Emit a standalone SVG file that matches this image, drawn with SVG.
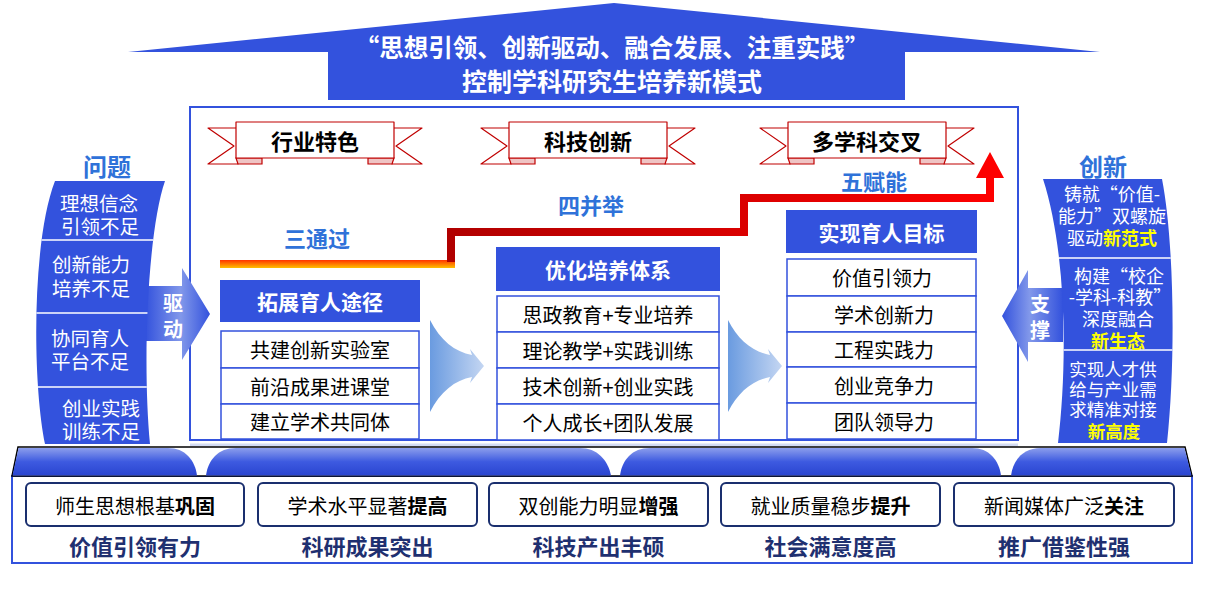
<svg xmlns="http://www.w3.org/2000/svg" width="1211" height="610" viewBox="0 0 1211 610">
<defs>
<style>
.t{font-family:"Noto Sans CJK SC","Noto Sans",sans-serif;dominant-baseline:central;text-anchor:middle;}
.w{fill:#fff}
.b{font-weight:bold}
.k{fill:#000}
.hdr{fill:#3352dd}
.item{fill:#fff;stroke:#3352dd;stroke-width:1.5}
.rib{fill:#fff;stroke:#c00000;stroke-width:1.2;stroke-linejoin:round}
.fold{fill:#efc4c4;stroke:#c00000;stroke-width:1.2}
.lbl{fill:#2f72d9;font-weight:bold}
.res{fill:#fff;stroke:#1a2f6e;stroke-width:2}
.ev{fill:#1f3070;font-weight:bold;font-size:22px}
.div{stroke:#fff;stroke-width:1.5}
.yel{fill:#ffff00;font-weight:bold}
</style>
<linearGradient id="bump" x1="0" y1="0" x2="0" y2="1">
<stop offset="0" stop-color="#8c9eec"/><stop offset="0.5" stop-color="#3d5ae0"/><stop offset="1" stop-color="#2a45d0"/>
</linearGradient>
<linearGradient id="fan" x1="0" y1="0" x2="1" y2="0">
<stop offset="0" stop-color="#6a9be0"/><stop offset="1" stop-color="#c4d6f2"/>
</linearGradient>
<linearGradient id="qd" x1="0" y1="0" x2="1" y2="0">
<stop offset="0" stop-color="#3352dd"/><stop offset="0.55" stop-color="#8298ea"/><stop offset="1" stop-color="#3352dd"/>
</linearGradient>
<linearGradient id="cc" x1="1" y1="0" x2="0" y2="0">
<stop offset="0" stop-color="#3352dd"/><stop offset="0.55" stop-color="#8298ea"/><stop offset="1" stop-color="#3352dd"/>
</linearGradient>
<linearGradient id="orange" x1="0" y1="0" x2="0" y2="1">
<stop offset="0" stop-color="#ff3300"/><stop offset="1" stop-color="#ffc000"/>
</linearGradient>
<linearGradient id="red" gradientUnits="userSpaceOnUse" x1="447" y1="0" x2="1004" y2="0">
<stop offset="0" stop-color="#b00000"/><stop offset="1" stop-color="#ff0000"/>
</linearGradient>
<clipPath id="lclip"><path d="M55,181 L165,181 C148,230 142,360 150,444 L45,444 C32,380 32,240 55,181 Z"/></clipPath>
<clipPath id="rclip"><path d="M1043,179 L1162,179 C1174,240 1176,360 1167,443 L1058,443 C1068,360 1066,250 1043,179 Z"/></clipPath>
<g id="ribbon">
<polygon class="rib" points="0,6 30,6 30,42 0,42 26,24"/>
<polygon class="rib" points="214,6 184,6 184,42 214,42 188,24"/>
<polygon class="fold" points="28,36 54,36 54,42 30,42"/>
<polygon class="fold" points="186,36 160,36 160,42 184,42"/>
<rect class="rib" x="28" y="0" width="158" height="36"/>
</g>
</defs>

<g id="roof">
<polygon fill="#3352dd" points="128,52 614,3 1100,52 905,52 905,100 328,100 328,52"/>
<text class="t w b"><tspan x="612" y="46" font-size="24.5">“思想引领、创新驱动、融合发展、注重实践”</tspan><tspan x="612" y="80" font-size="25">控制学科研究生培养新模式</tspan></text>
</g>

<g id="frame">
<rect x="190" y="107" width="828" height="333" fill="#fff" stroke="#3352dd" stroke-width="2"/>
<line x1="190" y1="445" x2="1018" y2="445" stroke="#d3dbf3" stroke-width="3"/>
</g>

<g id="ribbon1"><use href="#ribbon" x="208" y="122"/><text class="t b k" x="315" y="140" font-size="22">行业特色</text></g>
<g id="ribbon2"><use href="#ribbon" x="481" y="122"/><text class="t b k" x="588" y="140" font-size="22">科技创新</text></g>
<g id="ribbon3"><use href="#ribbon" x="760" y="122"/><text class="t b k" x="867" y="140" font-size="22">多学科交叉</text></g>

<g id="connectors">
<rect x="220" y="260" width="235" height="8" fill="url(#orange)"/>
<polygon fill="url(#red)" points="447,228 740,228 740,194 986,194 986,178 976,178 990,152 1004,178 994,178 994,202 748,202 748,236 455,236 455,262 447,262"/>
<path fill="url(#fan)" d="M430,320 C440,340 455,352 472,355 L470,349 L484,366 L470,383 L472,377 C455,380 440,392 430,412 Z"/>
<path fill="url(#fan)" d="M728,320 C738,340 753,352 770,355 L768,349 L782,366 L768,383 L770,377 C753,380 738,392 728,412 Z"/>
<polygon fill="url(#qd)" points="145,286 182,286 182,268 210,314 182,360 182,341 145,341"/>
<text class="t w b" font-size="20"><tspan x="173" y="302">驱</tspan><tspan x="173" y="328">动</tspan></text>
<polygon fill="url(#cc)" points="1063,288 1028,288 1028,270 1002,316 1028,362 1028,342 1063,342"/>
<text class="t w b" font-size="20"><tspan x="1040" y="303">支</tspan><tspan x="1040" y="329">撑</tspan></text>
</g>

<g id="stage-labels">
<text class="t lbl" x="317" y="237" font-size="22">三通过</text>
<text class="t lbl" x="591" y="204" font-size="22">四并举</text>
<text class="t lbl" x="874" y="180" font-size="22">五赋能</text>
</g>

<g id="problems">
<text class="t lbl" x="107" y="165" font-size="24">问题</text>
<path fill="#3352dd" d="M55,181 L165,181 C148,230 142,360 150,444 L45,444 C32,380 32,240 55,181 Z"/>
<g clip-path="url(#lclip)">
<line class="div" x1="30" y1="240" x2="170" y2="240"/>
<line class="div" x1="30" y1="313" x2="170" y2="313"/>
<line class="div" x1="30" y1="387" x2="170" y2="387"/>
</g>
<text class="t w" font-size="19.5"><tspan x="99" y="202">理想信念</tspan><tspan x="100" y="225">引领不足</tspan></text>
<text class="t w" font-size="19.5"><tspan x="91" y="263">创新能力</tspan><tspan x="91" y="287">培养不足</tspan></text>
<text class="t w" font-size="19.5"><tspan x="90" y="337">协同育人</tspan><tspan x="90" y="360">平台不足</tspan></text>
<text class="t w" font-size="19.5"><tspan x="101" y="407">创业实践</tspan><tspan x="101" y="430">训练不足</tspan></text>
</g>

<g id="innovation">
<text class="t lbl" x="1103" y="165" font-size="24">创新</text>
<path fill="#3352dd" d="M1043,179 L1162,179 C1174,240 1176,360 1167,443 L1058,443 C1068,360 1066,250 1043,179 Z"/>
<g clip-path="url(#rclip)">
<line class="div" x1="1040" y1="258" x2="1180" y2="258"/>
<line class="div" x1="1040" y1="350" x2="1180" y2="350"/>
</g>
<text class="t w" font-size="18"><tspan x="1112" y="193">铸就“价值-</tspan><tspan x="1112" y="215">能力”双螺旋</tspan><tspan x="1112" y="237">驱动<tspan class="yel">新范式</tspan></tspan></text>
<text class="t w" font-size="18"><tspan x="1119" y="275">构建“校企</tspan><tspan x="1120" y="296">-学科-科教”</tspan><tspan x="1118" y="318">深度融合</tspan><tspan class="yel" x="1118" y="340">新生态</tspan></text>
<text class="t w" font-size="17.5"><tspan x="1113" y="368">实现人才供</tspan><tspan x="1113" y="388">给与产业需</tspan><tspan x="1113" y="408">求精准对接</tspan><tspan class="yel" x="1114" y="430">新高度</tspan></text>
</g>

<g id="col1">
<rect class="hdr" x="220" y="280" width="200" height="42"/>
<text class="t w b" x="320" y="301" font-size="21">拓展育人途径</text>
<rect class="item" x="221" y="331" width="198" height="37"/>
<rect class="item" x="221" y="368" width="198" height="36"/>
<rect class="item" x="221" y="404" width="198" height="35"/>
<text class="t k" x="320" y="349.5" font-size="20">共建创新实验室</text>
<text class="t k" x="320" y="386" font-size="20">前沿成果进课堂</text>
<text class="t k" x="320" y="421.5" font-size="20">建立学术共同体</text>
</g>

<g id="col2">
<rect class="hdr" x="496" y="247" width="224" height="44"/>
<text class="t w b" x="608" y="269" font-size="21">优化培养体系</text>
<rect class="item" x="497" y="296" width="222" height="36"/>
<rect class="item" x="497" y="332" width="222" height="36"/>
<rect class="item" x="497" y="368" width="222" height="36"/>
<rect class="item" x="497" y="404" width="222" height="36"/>
<text class="t k" x="608" y="314" font-size="20">思政教育+专业培养</text>
<text class="t k" x="608" y="350" font-size="20">理论教学+实践训练</text>
<text class="t k" x="608" y="386" font-size="20">技术创新+创业实践</text>
<text class="t k" x="608" y="422" font-size="20">个人成长+团队发展</text>
</g>

<g id="col3">
<rect class="hdr" x="786" y="210" width="191" height="43"/>
<text class="t w b" x="881.5" y="231.5" font-size="21">实现育人目标</text>
<rect class="item" x="787" y="259" width="189" height="37"/>
<rect class="item" x="787" y="296" width="189" height="36"/>
<rect class="item" x="787" y="332" width="189" height="35"/>
<rect class="item" x="787" y="367" width="189" height="36"/>
<rect class="item" x="787" y="403" width="189" height="36"/>
<text class="t k" x="882" y="277.5" font-size="20">价值引领力</text>
<text class="t k" x="884" y="314" font-size="20">学术创新力</text>
<text class="t k" x="884" y="349.5" font-size="20">工程实践力</text>
<text class="t k" x="884" y="385" font-size="20">创业竞争力</text>
<text class="t k" x="884" y="421" font-size="20">团队领导力</text>
</g>

<g id="outcomes">
<rect x="12" y="476" width="1180" height="87" fill="#fff" stroke="#3352dd" stroke-width="2"/>
<polygon points="18,447 1185,447 1192,476 12,476" fill="#fff" stroke="#000" stroke-width="1.5"/>
<path fill="url(#bump)" d="M18.5,448 L168,448 C185,448 195,460 197,475.5 L12.5,475.5 Z"/>
<path fill="url(#bump)" d="M206,475.5 C208,460 218,448 236,448 L580,448 C597,448 608,460 611,475.5 Z"/>
<path fill="url(#bump)" d="M620,475.5 C622,460 632,448 650,448 L972,448 C989,448 999,460 1001,475.5 Z"/>
<path fill="url(#bump)" d="M1011,475.5 C1013,460 1023,448 1041,448 L1184.5,448 L1191.5,475.5 Z"/>
</g>

<g id="outcome1">
<rect class="res" x="26" y="483" width="218" height="43" rx="5"/>
<text class="t k" x="135" y="505" font-size="20">师生思想根基<tspan class="b">巩固</tspan></text>
<text class="t ev" x="135" y="545">价值引领有力</text>
</g>
<g id="outcome2">
<rect class="res" x="258" y="483" width="219" height="43" rx="5"/>
<text class="t k" x="367.5" y="505" font-size="20">学术水平显著<tspan class="b">提高</tspan></text>
<text class="t ev" x="367.5" y="545">科研成果突出</text>
</g>
<g id="outcome3">
<rect class="res" x="489" y="483" width="219" height="43" rx="5"/>
<text class="t k" x="598.5" y="505" font-size="20">双创能力明显<tspan class="b">增强</tspan></text>
<text class="t ev" x="598.5" y="545">科技产出丰硕</text>
</g>
<g id="outcome4">
<rect class="res" x="721" y="483" width="219" height="43" rx="5"/>
<text class="t k" x="830.5" y="505" font-size="20">就业质量稳步<tspan class="b">提升</tspan></text>
<text class="t ev" x="830.5" y="545">社会满意度高</text>
</g>
<g id="outcome5">
<rect class="res" x="954" y="483" width="220" height="43" rx="5"/>
<text class="t k" x="1064" y="505" font-size="20">新闻媒体广泛<tspan class="b">关注</tspan></text>
<text class="t ev" x="1064" y="545">推广借鉴性强</text>
</g>
</svg>
